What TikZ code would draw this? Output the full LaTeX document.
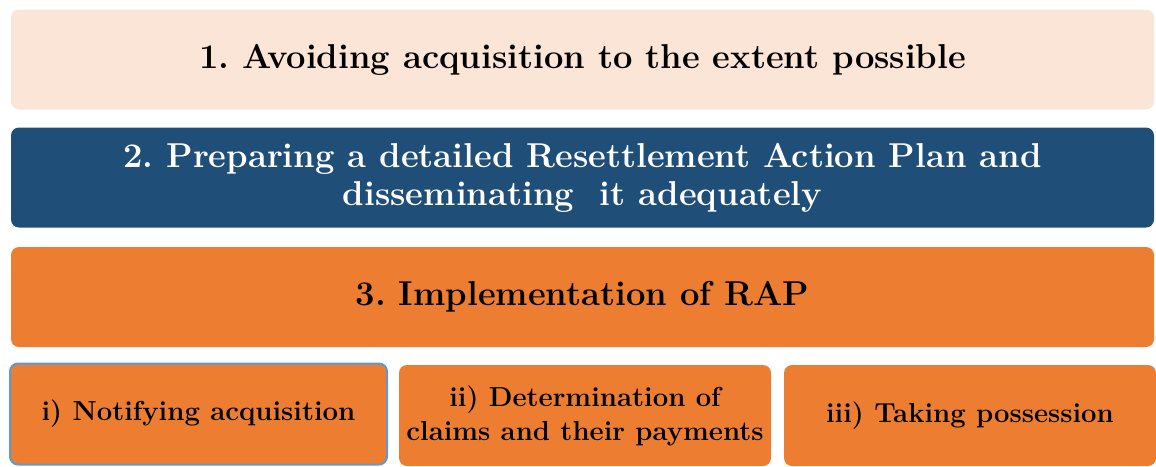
\documentclass[tikz,border=0pt]{standalone}
\definecolor{peach}{HTML}{FBE5D6}
\definecolor{darkblue}{HTML}{1F4E79}
\definecolor{orange}{HTML}{ED7D31}
\definecolor{lineblue}{HTML}{5B9BD5}
\frenchspacing
\tikzset{
  bigbox/.style={rounded corners=8pt,minimum width=1143pt,minimum height=100pt,inner sep=0pt,align=center,font=\fontsize{34.5}{38}\selectfont\bfseries},
  subbox/.style={rounded corners=8pt,fill=orange,minimum width=372pt,minimum height=101pt,inner sep=0pt,align=center,font=\fontsize{27.5}{34}\selectfont\bfseries}
}
\begin{document}
\begin{tikzpicture}[x=1pt,y=-1pt]
\useasboundingbox (0,0) rectangle (1156,466);
\node [bigbox,fill=peach] (avoid) at (582.5,59.5) {1. Avoiding acquisition to the extent possible};
\node [bigbox,fill=darkblue,text=white] (rap) at (582.5,177.5) {2. Preparing a detailed Resettlement Action Plan and\\disseminating\ \ it adequately};
\node [bigbox,fill=orange] (impl) at (582.5,297) {3. Implementation of RAP};
\node [subbox,draw=lineblue,line width=2pt,minimum width=377pt] (notify) at (198.5,414) {i) Notifying acquisition};
\node [subbox] (claims) at (585,415.5) {ii) Determination of\\claims and their payments};
\node [subbox] (possess) at (970,415.5) {iii) Taking possession};
\end{tikzpicture}
\end{document}
